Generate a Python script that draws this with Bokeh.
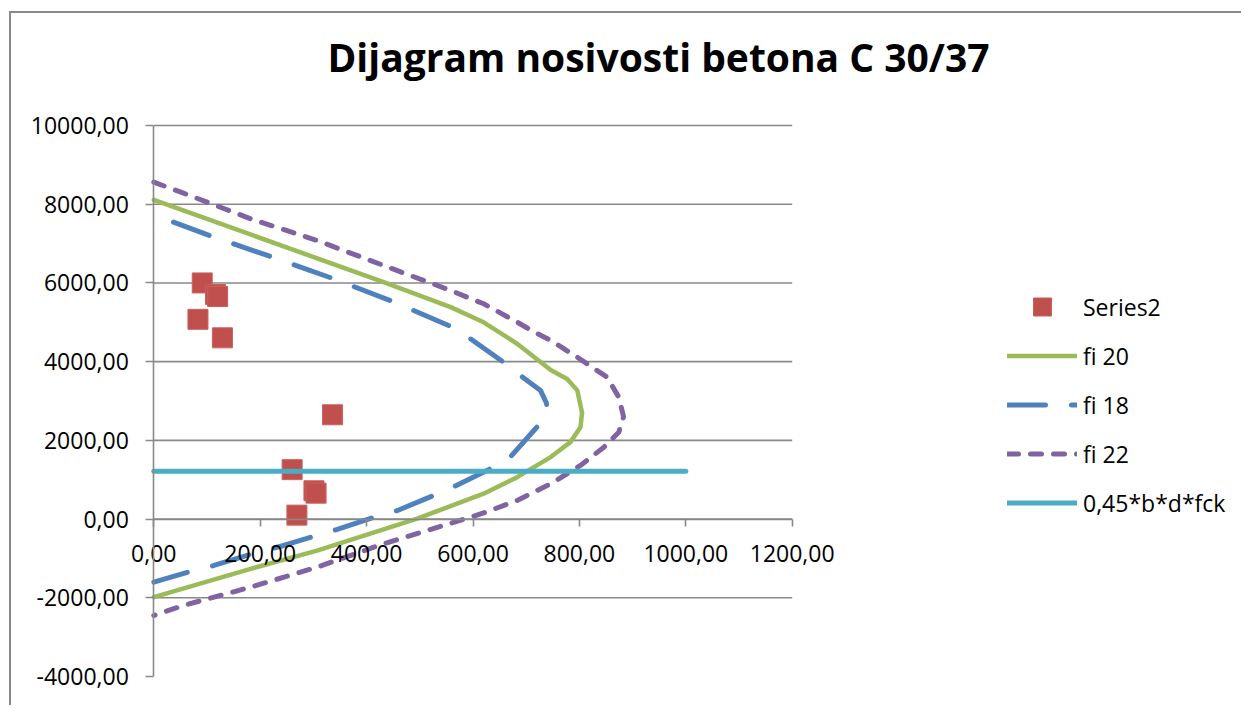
from bokeh.plotting import figure
from bokeh.models import FixedTicker, Legend, LegendItem, Label, Range1d
from bokeh.embed import file_html
from bokeh.resources import INLINE

# ---------------- data ----------------
title_text = "Dijagram nosivosti betona C 30/37"
x_ticks = [0, 200, 400, 600, 800, 1000, 1200]
y_ticks = [-4000, -2000, 0, 2000, 4000, 6000, 8000, 10000]

series2_x = [91, 116, 120, 83, 129, 336, 260, 301, 305, 269]
series2_y = [6000, 5705, 5655, 5075, 4605, 2650, 1255, 719, 658, 100]

fi20_x = [0, 432, 558, 620, 683, 746, 777, 796, 805, 802, 783, 746, 683, 620, 495, 307, 182, 0]
fi20_y = [8110, 6020, 5385, 5000, 4455, 3790, 3560, 3270, 2700, 2335, 1955, 1575, 1065, 645, 10, -800, -1265, -1985]

fi18_x = [37, 113, 226, 338, 448, 558, 592, 656, 689, 727, 738, 740, 720, 671, 636, 564, 526, 458, 414, 342, 244, 185, 113, 75, 0]
fi18_y = [7545, 7165, 6640, 6105, 5535, 4895, 4610, 4000, 3650, 3265, 2950, 2750, 2335, 1590, 1300, 825, 600, 218, 48, -272, -671, -882, -1179, -1306, -1603]

fi22_x = [0, 56, 182, 307, 432, 558, 620, 683, 714, 746, 796, 852, 874, 883, 874, 846, 802, 746, 683, 620, 560, 432, 307, 182, 56, 0]
fi22_y = [8560, 8280, 7630, 7078, 6443, 5808, 5470, 5003, 4760, 4538, 4113, 3605, 3097, 2600, 2208, 1827, 1362, 897, 473, 155, -100, -628, -1222, -1730, -2195, -2450]

limit_x = [0, 1000]
limit_y = [1215, 1215]

labels = ["Series2", "fi 20", "fi 18", "fi 22", "0,45*b*d*fck"]


def fmt(v):
    return f"{v:.2f}".replace(".", ",")


FONT = "Open Sans"
GRAY = "#898989"

# whole canvas is the frame; axes are pinned at the data origin
p = figure(
    width=1232, height=694,
    x_range=Range1d(-267.5, 2048.3), y_range=Range1d(-4787.7, 12845.7),
    output_backend="svg", toolbar_location=None,
    min_border_left=0, min_border_right=0,
    min_border_top=0, min_border_bottom=0,
    outline_line_color=None,
    background_fill_color="white", border_fill_color="white",
)
p.styles = {
    "border-left": f"2px solid {GRAY}",
    "border-top": f"2px solid {GRAY}",
    "margin-left": "9px",
    "margin-top": "11px",
}

# grid (horizontal lines over the plot area only)
p.xgrid.visible = False
p.ygrid.visible = False
grid_y = [t for t in y_ticks if t != y_ticks[0]]
p.segment(x0=[x_ticks[0]] * len(grid_y), x1=[x_ticks[-1]] * len(grid_y),
          y0=grid_y, y1=grid_y, line_color=GRAY, line_width=1.6)

# axes
xa = p.xaxis[0]
xa.fixed_location = 0
xa.bounds = (x_ticks[0], x_ticks[-1])
xa.ticker = FixedTicker(ticks=x_ticks)
xa.major_label_overrides = {t: fmt(t) for t in x_ticks}
ya = p.yaxis[0]
ya.fixed_location = 0
ya.bounds = (y_ticks[0], y_ticks[-1])
ya.ticker = FixedTicker(ticks=y_ticks)
ya.major_label_overrides = {t: fmt(t) for t in y_ticks}
for ax in (xa, ya):
    ax.axis_line_color = GRAY
    ax.axis_line_width = 1.6
    ax.major_tick_line_color = GRAY
    ax.major_tick_line_width = 1.6
    ax.major_tick_in = 0
    ax.minor_tick_line_color = None
    ax.major_label_text_font = FONT
    ax.major_label_text_font_size = "23px"
    ax.major_label_text_color = "black"
xa.major_tick_out = 7
xa.major_label_standoff = 19
ya.major_tick_out = 8
ya.major_label_standoff = 17

# series
r_sq = p.scatter(series2_x, series2_y, marker="square", size=20,
                 fill_color="#C0504D", line_color="#C9605D", line_width=1)
r20 = p.line(fi20_x, fi20_y, line_color="#9BBB59", line_width=4.5,
             line_join="round", line_cap="round")
r18 = p.line(fi18_x, fi18_y, line_color="#4F81BD", line_width=5,
             line_dash="38 26", line_join="round", line_cap="round")
r22 = p.line(fi22_x, fi22_y, line_color="#8064A2", line_width=5,
             line_dash="11 12", line_join="round", line_cap="round")
rlim = p.line(limit_x, limit_y, line_color="#4BACC6", line_width=5,
              line_cap="round")

legend = Legend(
    items=[LegendItem(label=l, renderers=[r]) for l, r in
           zip(labels, [r_sq, r20, r18, r22, rlim])],
    location=(996, 182),
    glyph_width=70, glyph_height=45, label_height=45, spacing=4,
    label_standoff=6, padding=10,
    label_text_font=FONT, label_text_font_size="23px", label_text_color="black",
    border_line_color=None, background_fill_alpha=0,
)
p.add_layout(legend)

p.add_layout(Label(x=948.7, y=11760, text=title_text, text_align="center",
                   text_baseline="alphabetic", text_font=FONT,
                   text_font_style="bold", text_font_size="39px",
                   text_color="black"))

open("out.html", "w").write(file_html(p, INLINE))
